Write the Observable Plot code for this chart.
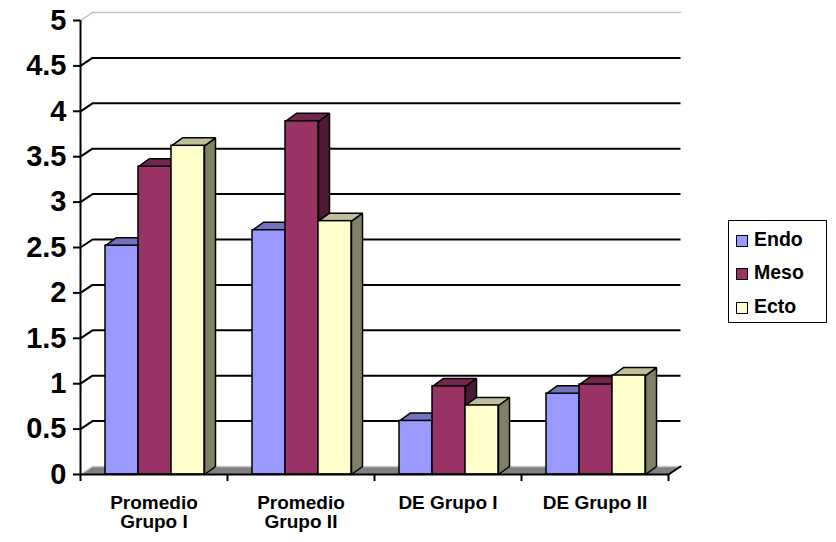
<!DOCTYPE html>
<html><head><meta charset="utf-8">
<script src="https://cdn.jsdelivr.net/npm/d3@7"></script>
<script src="https://cdn.jsdelivr.net/npm/@observablehq/plot@0.6"></script>
<style>
body{margin:0;background:#fff;}
#wrap{position:relative;width:836px;height:542px;font-family:"Liberation Sans",Arial,sans-serif;background:#fff;}
#legend{position:absolute;left:728px;top:220px;width:99px;height:103px;border:1.5px solid #000;box-sizing:border-box;background:#fff;}
#legend .item{position:absolute;left:7px;height:20px;line-height:20px;font-weight:bold;font-size:19.5px;color:#000;white-space:nowrap;}
#legend .sw{display:inline-block;width:10px;height:10px;border:1.5px solid #000;margin-right:6px;vertical-align:-1px;}
</style></head>
<body><div id="wrap"><div id="chart"></div><div id="legend"></div></div>
<script>
const categories = ["Promedio\nGrupo I", "Promedio\nGrupo II", "DE Grupo I", "DE Grupo II"];
const seriesNames = ["Endo", "Meso", "Ecto"];
const endo = [2.52, 2.69, 0.59, 0.89];
const meso = [3.39, 3.89, 0.97, 0.99];
const ecto = [3.62, 2.79, 0.76, 1.09];
const yTicks = [0, 0.5, 1, 1.5, 2, 2.5, 3, 3.5, 4, 4.5, 5];

const frontColors = ["#9999FF", "#993366", "#FFFFCC"];
const topColors = ["#7373BF", "#73264D", "#BFBF99"];
const sideColors = ["#4D4D80", "#4D1A33", "#808066"];

const W = 836, H = 542, mL = 80, mR = 168, mT = 20, mB = 68;
const pxX = categories.length / (W - mL - mR);
const pxY = 5 / (H - mT - mB);
const bdx = 11 * pxX, bdy = 8 * pxY;   // bar depth
const wdx = 12 * pxX, wdy = 8 * pxY;   // wall depth
const tickLen = 7 * pxX;
const barOffset = 25 * pxX, barWidth = 33 * pxX;
const N = categories.length;

const values = [endo, meso, ecto];
const bars = [];
values.forEach((arr, s) => arr.forEach((v, i) => {
  const x1 = i + barOffset + s * barWidth;
  bars.push({s, i, v, x1, x2: x1 + barWidth, id: s + "-" + i});
}));

function topPoly(b) {
  return [[b.x1, b.v], [b.x2, b.v], [b.x2 + bdx, b.v + bdy], [b.x1 + bdx, b.v + bdy], [b.x1, b.v]]
    .map(([x, y]) => ({x, y, id: b.id}));
}
function sidePoly(b) {
  return [[b.x2, 0], [b.x2, b.v], [b.x2 + bdx, b.v + bdy], [b.x2 + bdx, bdy], [b.x2, 0]]
    .map(([x, y]) => ({x, y, id: b.id}));
}

const gridPts = yTicks.filter(v => v > 0 && v < 5).flatMap(v =>
  [[0, v], [wdx, v + wdy], [N + wdx, v + wdy]].map(([x, y]) => ({x, y, id: v})));
const wallTop = [[0, 5], [wdx, 5 + wdy], [N + wdx, 5 + wdy]].map(([x, y]) => ({x, y}));
const floorPts = [[0, 0], [N, 0], [N + wdx, wdy], [wdx, wdy], [0, 0]].map(([x, y]) => ({x, y}));
const floorBack = [[0, 0], [wdx, wdy], [N + wdx, wdy]].map(([x, y]) => ({x, y}));
const floorRight = [[N, 0], [N + wdx, wdy]].map(([x, y]) => ({x, y}));
const boundaries = d3.range(N + 1);

const marks = [
  Plot.line(gridPts, {x: "x", y: "y", z: "id", stroke: "#000", strokeWidth: 2, strokeLinejoin: "miter", strokeLinecap: "butt"}),
  Plot.line(wallTop, {x: "x", y: "y", stroke: "#c0c0c0", strokeWidth: 1.5}),
  Plot.line(floorPts, {x: "x", y: "y", fill: "#808080", stroke: "none"}),
  Plot.line(floorBack, {x: "x", y: "y", stroke: "#c8c8c8", strokeWidth: 1.5}),
  Plot.line(floorRight, {x: "x", y: "y", stroke: "#000", strokeWidth: 2})
];
seriesNames.forEach((name, s) => {
  const bs = bars.filter(b => b.s === s);
  marks.push(
    Plot.line(bs.flatMap(sidePoly), {x: "x", y: "y", z: "id", fill: sideColors[s], stroke: "#000", strokeWidth: 1.5, strokeLinejoin: "miter"}),
    Plot.line(bs.flatMap(topPoly), {x: "x", y: "y", z: "id", fill: topColors[s], stroke: "#000", strokeWidth: 1.5, strokeLinejoin: "miter"}),
    Plot.rect(bs, {x1: "x1", x2: "x2", y1: () => 0, y2: "v", fill: frontColors[s], stroke: "#000", strokeWidth: 1.5})
  );
});
marks.push(
  Plot.ruleY(yTicks, {y: d => d, x1: () => -tickLen, x2: () => 0, stroke: "#000", strokeWidth: 2}),
  Plot.ruleX([0], {x: d => d, y1: () => 0, y2: () => 5, stroke: "#000", strokeWidth: 2}),
  Plot.ruleY([0], {y: d => d, x1: () => 0, x2: () => N, stroke: "#000", strokeWidth: 2}),
  Plot.ruleX(boundaries, {x: d => d, y1: () => 0, y2: () => -7 * pxY, stroke: "#000", strokeWidth: 2}),
  Plot.text(yTicks, {x: () => 0, y: d => d, text: d => String(d), textAnchor: "end", dx: -14, fontSize: 29, fontWeight: "bold", fill: "#000"}),
  Plot.text(categories, {x: (d, i) => i + 0.5, y: () => 0, text: d => d, lineAnchor: "top", dy: 21, fontSize: 19, fontWeight: "bold", lineHeight: 1.0, fill: "#000"})
);

const chart = Plot.plot({
  width: W, height: H,
  marginLeft: mL, marginRight: mR, marginTop: mT, marginBottom: mB,
  x: {type: "linear", domain: [0, N], axis: null},
  y: {type: "linear", domain: [0, 5], axis: null},
  style: {fontFamily: "'Liberation Sans', Arial, sans-serif", background: "#fff", color: "#000", overflow: "visible"},
  marks
});
document.getElementById("chart").appendChild(chart);

const legend = document.getElementById("legend");
const centers = [19, 52, 86];
seriesNames.forEach((name, s) => {
  const item = document.createElement("div");
  item.className = "item";
  item.style.top = (centers[s] - 11) + "px";
  const sw = document.createElement("span");
  sw.className = "sw";
  sw.style.background = frontColors[s];
  item.appendChild(sw);
  item.appendChild(document.createTextNode(name));
  legend.appendChild(item);
});
</script>
</body></html>
